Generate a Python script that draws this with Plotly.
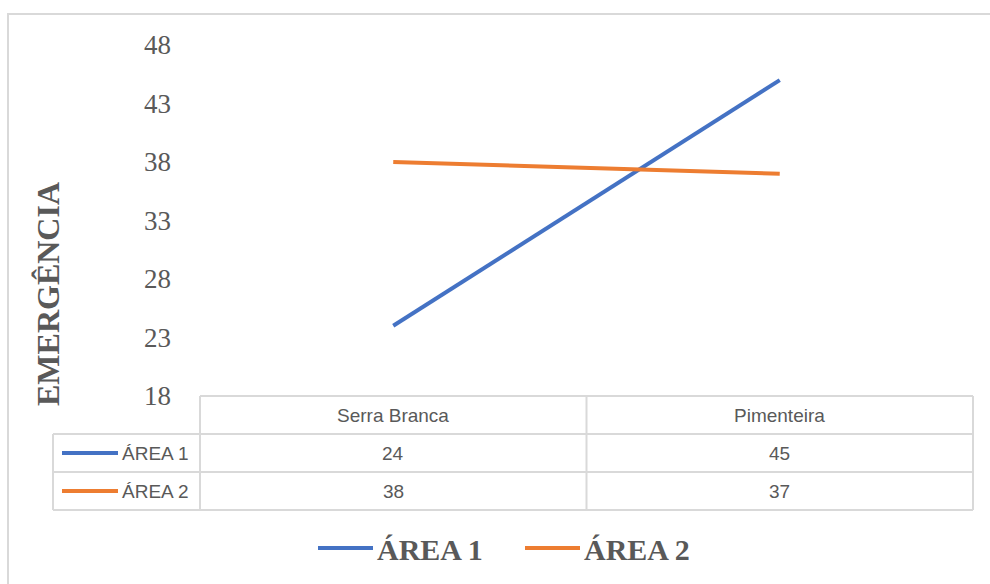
import plotly.graph_objects as go

categories = ["Serra Branca", "Pimenteira"]
series_names = ["ÁREA 1", "ÁREA 2"]
area1 = [24, 45]
area2 = [38, 37]
series_values = [area1, area2]
colors = ["#4472C4", "#ED7D31"]
y_ticks = [18, 23, 28, 33, 38, 43, 48]

W, H = 990, 584
L, R, T, B = 200, 973, 45, 396  # plot area in pixels

def px(x):
    return (x - L) / (R - L)

def py(y):
    return (B - y) / (B - T)

fig = go.Figure()
for name, vals, col in zip(series_names, series_values, colors):
    fig.add_trace(go.Scatter(x=categories, y=vals, mode="lines", name=name,
                             line=dict(color=col, width=4), showlegend=False))

grid = "#D9D9D9"
shapes = []
def hline(x0, x1, y):
    shapes.append(dict(type="line", xref="paper", yref="paper", x0=px(x0), x1=px(x1),
                       y0=py(y), y1=py(y), line=dict(color=grid, width=2)))
def vline(x, y0, y1):
    shapes.append(dict(type="line", xref="paper", yref="paper", x0=px(x), x1=px(x),
                       y0=py(y0), y1=py(y1), line=dict(color=grid, width=2)))

# outer chart border
shapes.append(dict(type="rect", xref="paper", yref="paper", x0=px(8), x1=px(1010),
                   y0=py(14), y1=py(610), line=dict(color="#D9D9D9", width=2)))

row_y = [396, 434, 472, 510]
hline(L, R, row_y[0])
for yy in row_y[1:]:
    hline(53, R, yy)
vline(53, 434, 510)
col_x = [L, (L + R) / 2, R]
for xx in col_x:
    vline(xx, 396, 510)

annotations = []
tfont = dict(family="Liberation Sans, Arial", size=19, color="#595959")
for i, cat in enumerate(categories):
    cx = (col_x[i] + col_x[i + 1]) / 2
    annotations.append(dict(xref="paper", yref="paper", x=px(cx), y=py(415), text=cat,
                            showarrow=False, font=tfont, xanchor="center", yanchor="middle"))
    for j, vals in enumerate(series_values):
        annotations.append(dict(xref="paper", yref="paper", x=px(cx), y=py(453 + 38 * j),
                                text=str(vals[i]), showarrow=False, font=tfont,
                                xanchor="center", yanchor="middle"))

for j, (name, col) in enumerate(zip(series_names, colors)):
    yy = 453 + 38 * j
    shapes.append(dict(type="line", xref="paper", yref="paper", x0=px(62), x1=px(118),
                       y0=py(yy), y1=py(yy), line=dict(color=col, width=4)))
    annotations.append(dict(xref="paper", yref="paper", x=px(120), y=py(yy), text=name,
                            showarrow=False, font=tfont, xanchor="left", yanchor="middle"))

# bottom legend
leg_x = [318, 525]
lfont = dict(family="Liberation Serif, Times New Roman", size=30, color="#595959")
for j, (name, col) in enumerate(zip(series_names, colors)):
    x0 = leg_x[j]
    shapes.append(dict(type="line", xref="paper", yref="paper", x0=px(x0), x1=px(x0 + 55),
                       y0=py(548), y1=py(548), line=dict(color=col, width=4)))
    annotations.append(dict(xref="paper", yref="paper", x=px(x0 + 57), y=py(549),
                            text="<b>" + name + "</b>", showarrow=False, font=lfont,
                            xanchor="left", yanchor="middle"))

# y-axis title
annotations.append(dict(xref="paper", yref="paper", x=px(48), y=py(294), text="<b>EMERGÊNCIA</b>",
                        textangle=-90, showarrow=False,
                        font=dict(family="Liberation Serif, Times New Roman", size=32, color="#595959"),
                        xanchor="center", yanchor="middle"))

fig.update_layout(
    width=W, height=H, autosize=False,
    margin=dict(l=L, r=W - R, t=T, b=H - B, pad=0),
    paper_bgcolor="white", plot_bgcolor="white",
    xaxis=dict(range=[-0.5, 1.5], showticklabels=False, showgrid=False, zeroline=False,
               showline=False, ticks=""),
    yaxis=dict(range=[18, 48], tickvals=y_ticks, showgrid=False, zeroline=False, showline=False,
               ticks="", ticklabelstandoff=28,
               tickfont=dict(family="Liberation Serif, Times New Roman", size=27, color="#595959")),
    shapes=shapes, annotations=annotations, showlegend=False,
)

fig.write_html("out.html")
